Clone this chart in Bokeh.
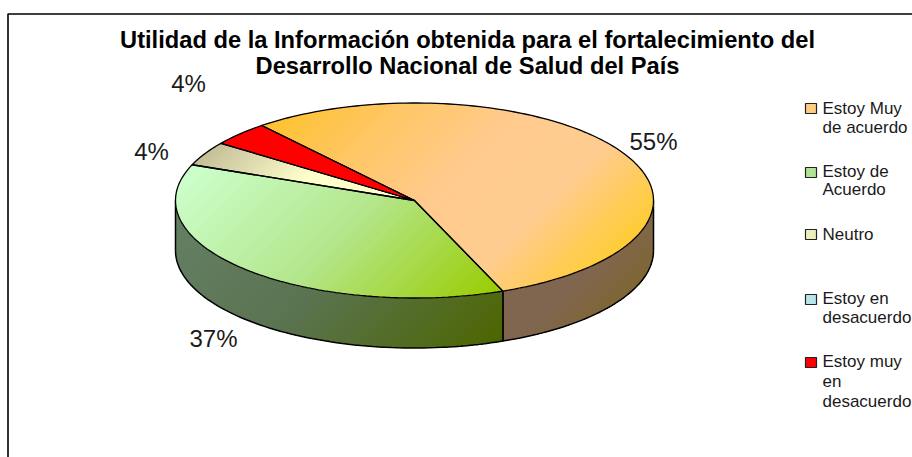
import math
from bokeh.plotting import figure
from bokeh.models import Range1d
from bokeh.core.properties import value
from bokeh.embed import file_html
from bokeh.resources import INLINE

# ---- data
title_lines = ["Utilidad de la Información obtenida para el fortalecimiento del",
               "Desarrollo Nacional de Salud del País"]
categories = ["Estoy Muy de acuerdo", "Estoy de Acuerdo", "Neutro", "Estoy en desacuerdo", "Estoy muy en desacuerdo"]
shares = [55, 37, 4, 0, 4]
pct_labels = ["55%", "37%", "4%", "", "4%"]
legend_lines = [["Estoy Muy", "de acuerdo"], ["Estoy de", "Acuerdo"], ["Neutro"], ["Estoy en", "desacuerdo"],
                ["Estoy muy", "en", "desacuerdo"]]
top_stops = [["#FFC22E", "#FFC666", "#FFCB8E", "#FFCC90", "#FFCC33"], ["#CCFFCC", "#B4E68C", "#99CC00"],
             ["#C4BE98", "#FFFFCC", "#FFFFCC"], ["#CCFFFF", "#CCFFFF", "#CCFFFF"], ["#FF0000", "#FF0000", "#FF0000"]]
wall_stops = [["#806650", "#806650", "#7F6633"], ["#668066", "#5A7350", "#4D6600"], ["#666650", "#666650", "#666650"],
              ["#668080", "#668080", "#668080"], ["#800000", "#800000", "#800000"]]
swatch_colors = ["#FFCC80", "#B0E490", "#EEEEBB", "#B8E6E6", "#FF0000"]

# ---- layout
CX, CY, RX, RY, DEPTH = 414.0, 200.0, 239.0, 97.5, 50.0
START = -39.7
LBL = [(653, 141), (213, 338), (151, 151), None, (188, 83)]
SW_Y = [108, 172, 234, 299, 362]
LINE_Y = [[108, 127], [171, 189], [234], [298, 317], [361, 381, 401]]
STEPS = 50


def pt(deg, dy=0.0):
    a = math.radians(deg)
    return CX + RX * math.sin(a), CY - RY * math.cos(a) + dy


def arc(a0, a1, dy=0.0):
    n = max(2, int(abs(a1 - a0) / 1.5) + 1)
    return [pt(a0 + (a1 - a0) * i / (n - 1), dy) for i in range(n)]


def clip(poly, thr):
    out = []
    for i, q in enumerate(poly):
        p0 = poly[i - 1]
        d0, d1 = p0[0] + p0[1] - thr, q[0] + q[1] - thr
        if (d0 >= 0) != (d1 >= 0):
            t = d0 / (d0 - d1)
            out.append((p0[0] + (q[0] - p0[0]) * t, p0[1] + (q[1] - p0[1]) * t))
        if d1 >= 0:
            out.append(q)
    return out


def hex2(c):
    return [int(c[i:i + 2], 16) for i in (1, 3, 5)]


def mix(stops, t):
    s = t * (len(stops) - 1)
    i = min(int(s), len(stops) - 2)
    f = s - i
    a, b = hex2(stops[i]), hex2(stops[i + 1])
    return "#%02x%02x%02x" % tuple(round(a[k] + (b[k] - a[k]) * f) for k in range(3))


def gradient(p, poly, stops):
    vals = [x + y for x, y in poly]
    lo, hi = min(vals), max(vals)
    xs, ys, cols = [], [], []
    for k in range(STEPS):
        part = clip(poly, lo + (hi - lo) * k / STEPS) if k else poly
        if len(part) < 3:
            continue
        xs.append([q[0] for q in part])
        ys.append([q[1] for q in part])
        cols.append(mix(stops, (k + 0.5) / STEPS))
    p.patches(xs, ys, fill_color=cols, line_color=None)


def outline(p, pts, w=1.5):
    p.line([q[0] for q in pts], [q[1] for q in pts], line_color="#000000", line_width=w)


p = figure(width=912, height=457, x_range=Range1d(0, 912), y_range=Range1d(457, 0),
           toolbar_location=None, output_backend="svg", min_border=0, outline_line_color=None,
           background_fill_color="#FFFFFF", border_fill_color="#FFFFFF",
           styles={"position": "absolute", "left": "0px", "top": "0px"})
p.xaxis.visible = False
p.yaxis.visible = False
p.grid.visible = False

# frame (its right and lower sides lie outside the picture)
p.line([7.5, 7.5, 912], [457, 13.5, 13.5], line_color="#000000", line_width=1.6)

# slice angles
angles = []
a = START
for s in shares:
    angles.append((a, a + s * 3.6))
    a += s * 3.6

# walls (front half only)
for i, (a0, a1) in enumerate(angles):
    lo, hi = max(a0, 90), min(a1, 270)
    if hi <= lo:
        continue
    top = arc(lo, hi)
    bot = arc(hi, lo, DEPTH)
    gradient(p, top + bot, wall_stops[i])
    outline(p, bot)
    outline(p, [top[0], bot[-1]])
    outline(p, [top[-1], bot[0]])

# top faces
for i, (a0, a1) in enumerate(angles):
    if a1 <= a0:
        continue
    poly = [(CX, CY)] + arc(a0, a1)
    gradient(p, poly, top_stops[i])
for i, (a0, a1) in enumerate(angles):
    if a1 <= a0:
        continue
    edge = arc(a0, a1)
    outline(p, [(CX, CY)] + edge + [(CX, CY)], 1.3)

font = value("Liberation Sans")
# percent labels
for i, lab in enumerate(pct_labels):
    if lab:
        p.text([LBL[i][0]], [LBL[i][1]], text=[lab], text_font=font, text_font_size="24px",
               text_align="center", text_baseline="middle", text_color="#1a1a1a")

# title
for y, line in zip([39, 65], title_lines):
    p.text([467], [y], text=[line], text_font=font, text_font_size="23.7px", text_font_style="bold",
           text_align="center", text_baseline="middle", text_color="#000000")

# legend
for i, lines in enumerate(legend_lines):
    p.quad(left=[805], right=[816], top=[SW_Y[i] - 5], bottom=[SW_Y[i] + 5], fill_color=swatch_colors[i],
           line_color="#222222", line_width=1.2)
    for y, line in zip(LINE_Y[i], lines):
        p.text([822], [y], text=[line], text_font=font, text_font_size="17px",
               text_align="left", text_baseline="middle", text_color="#1a1a1a")

open("out.html", "w").write(file_html(p, INLINE))
